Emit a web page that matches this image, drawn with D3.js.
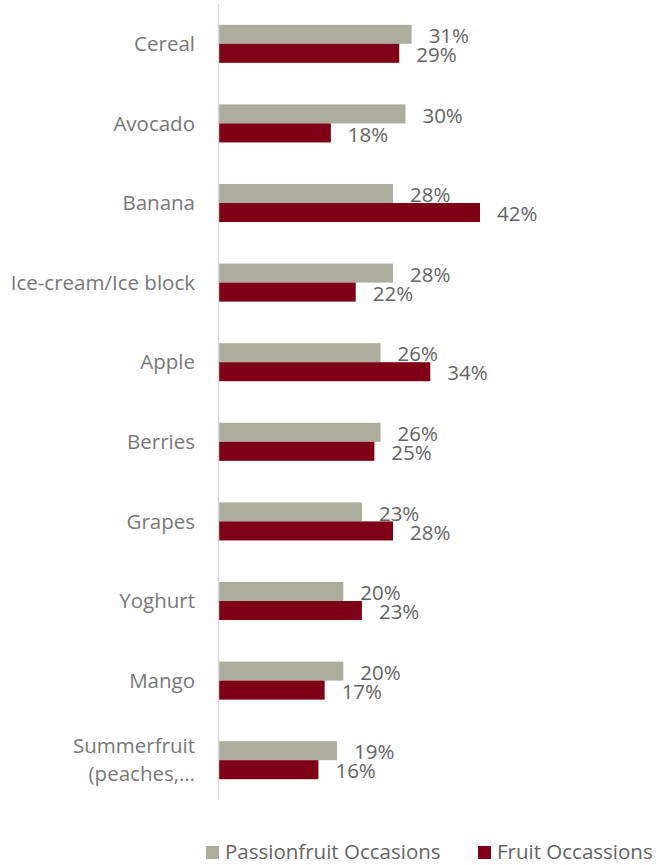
<!DOCTYPE html>
<html><head><meta charset="utf-8">
<script src="https://cdn.jsdelivr.net/npm/d3@7"></script>
<style>body{margin:0;background:#fff}svg{display:block}</style>
</head><body>
<svg id="c" width="656" height="865"></svg>
<script>
const categories = ["Cereal","Avocado","Banana","Ice-cream/Ice block","Apple","Berries","Grapes","Yoghurt","Mango","Summerfruit\n(peaches,…"];
const seriesNames = ["Passionfruit Occasions","Fruit Occassions"];
const passionfruit = [31,30,28,28,26,26,23,20,20,19];
const fruit = [29,18,42,22,34,25,28,23,17,16];
const colors = ["#ADAD9E","#7F0016"];

const svg = d3.select("#c");
const font = "'Open Sans', sans-serif";
const fs = 20.5;
const y = d3.scaleBand().domain(categories).range([4,800]).paddingInner(0.522).paddingOuter(0.261);
const ySub = d3.scaleBand().domain([0,1]).range([0, y.bandwidth()]);
const x = d3.scaleLinear().domain([0,42]).range([219,480]);

const series = [passionfruit, fruit];
const g = svg.append("g");
categories.forEach((c,i)=>{
  series.forEach((s,k)=>{
    g.append("rect").attr("x",x(0)).attr("y",y(c)+ySub(k))
      .attr("width",x(s[i])-x(0)).attr("height",ySub.bandwidth()).attr("fill",colors[k]);
    g.append("text").attr("x",x(s[i])+17).attr("y",y(c)+ySub(k)+ySub.bandwidth()/2+1.5)
      .attr("dy","0.35em").attr("font-family",font).attr("font-size",fs).attr("fill","#646464")
      .text(s[i]+"%");
  });
});

// axis line
svg.append("line").attr("x1",218.5).attr("x2",218.5).attr("y1",4).attr("y2",800).attr("stroke","#D9D9D9").attr("stroke-width",1.5);

// category labels
categories.forEach(c=>{
  const lines = c.split("\n");
  const cy = y(c)+y.bandwidth()/2;
  const lh = 28;
  const t = svg.append("text").attr("text-anchor","end").attr("font-family",font).attr("font-size",fs).attr("fill","#787878");
  lines.forEach((l,j)=>{
    t.append("tspan").attr("x",195).attr("y",cy + (j-(lines.length-1)/2)*lh).attr("dy","0.35em").text(l);
  });
});

// legend
const leg = [{x:206},{x:478}];
seriesNames.forEach((n,k)=>{
  svg.append("rect").attr("x",leg[k].x).attr("y",846).attr("width",13).attr("height",13).attr("fill",colors[k]);
  svg.append("text").attr("x",leg[k].x+19).attr("y",859).attr("font-family",font).attr("font-size",fs).attr("fill","#646464").text(n);
});
</script>
</body></html>
